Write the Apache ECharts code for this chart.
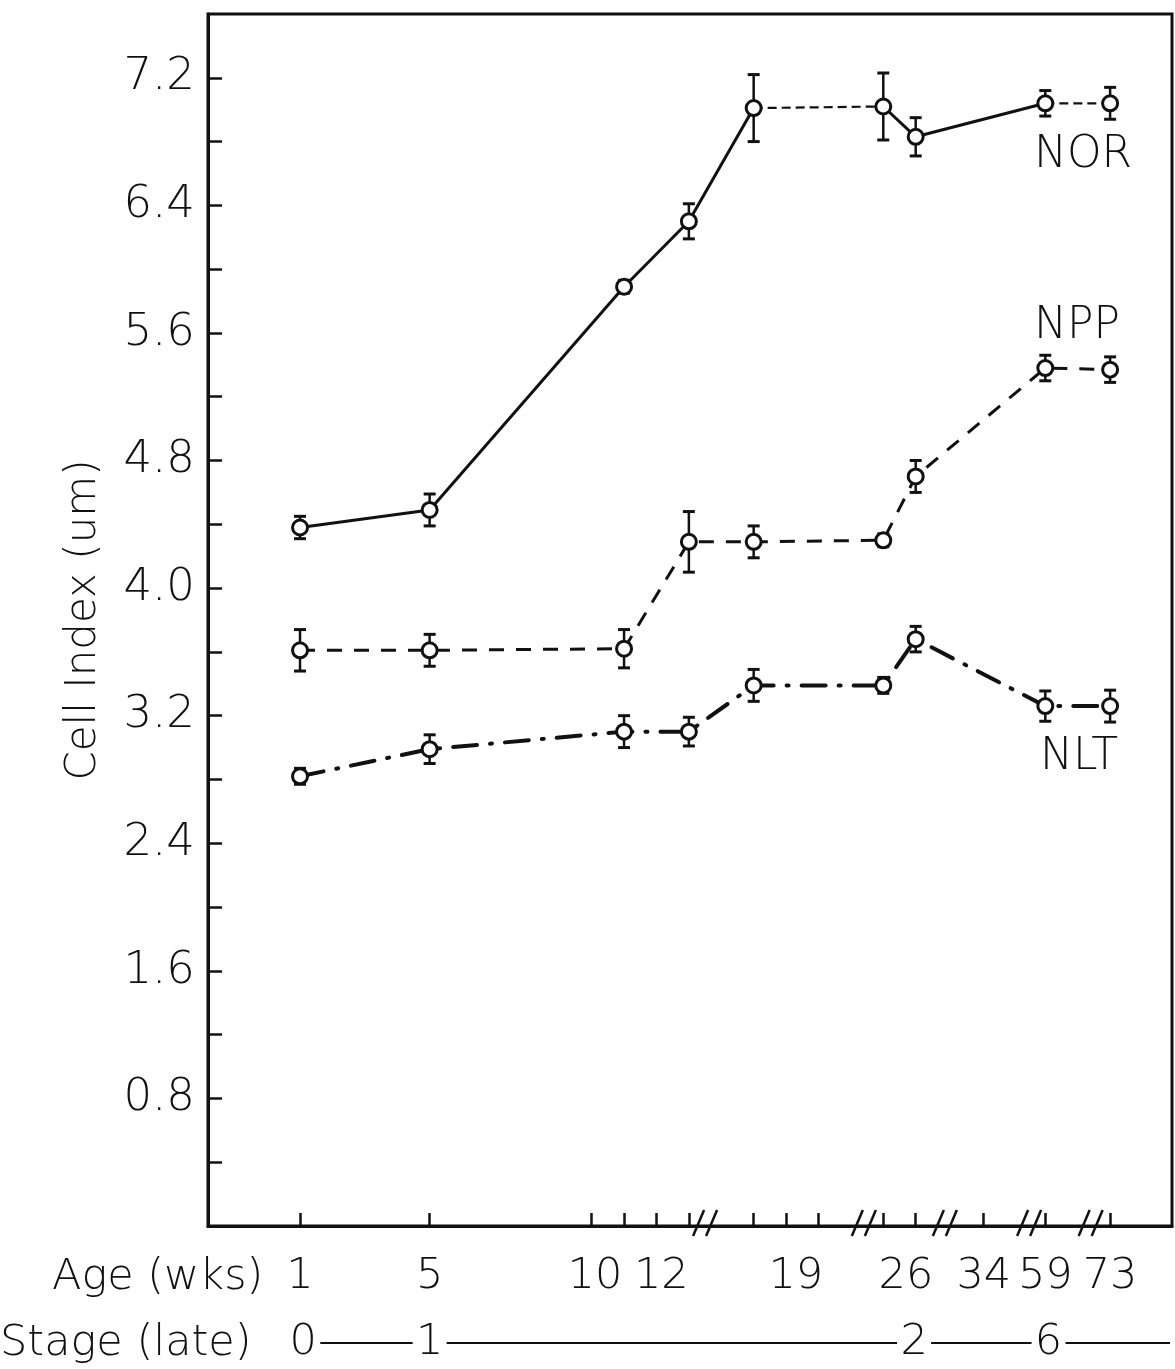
<!DOCTYPE html>
<html><head><meta charset="utf-8">
<script src="https://cdn.jsdelivr.net/npm/echarts@6/dist/echarts.min.js"></script>
<style>html,body{margin:0;padding:0;background:#fff}#c{width:1175px;height:1369px}</style>
</head><body><div id="c"></div>
<script>
// ---- data (x in axis display units of the broken age axis) ----
const agePos   = [1, 5, 11, 13, 15, 19, 20, 24, 26];
const norVals  = [4.38, 4.49, 5.89, 6.30, 7.01, 7.02, 6.83, 7.04, 7.04];
const norErr   = [0.07, 0.10, 0.04, 0.11, 0.21, 0.21, 0.12, 0.08, 0.10];
const nppVals  = [3.61, 3.61, 3.62, 4.29, 4.29, 4.30, 4.70, 5.38, 5.37];
const nppErr   = [0.13, 0.10, 0.12, 0.19, 0.10, 0.04, 0.10, 0.08, 0.08];
const nltVals  = [2.82, 2.99, 3.10, 3.10, 3.39, 3.39, 3.68, 3.26, 3.26];
const nltErr   = [0.05, 0.09, 0.10, 0.09, 0.10, 0.05, 0.08, 0.095, 0.10];
const norSolidRuns  = [[0, 4], [5, 7]];
const norDashedRuns = [[4, 5], [7, 8]];

const ageTickPos  = [1, 5, 10, 11, 12, 13, 15, 16, 17, 19, 20, 22.1, 24, 26];
const ageLabelPos = [1, 5, 10.1, 12.15, 16.3, 19.7, 22.1, 24, 26];
const ageLabels   = ['1', '5', '10', '12', '19', '26', '34', '59', '73'];
const breakPos    = [13.5, 18.4, 20.9, 23.5, 25.4];
const stagePos    = [1.1, 5, 19.95, 24.1];
const stageLabels = ['0', '1', '2', '6'];
const stageEnd    = 27.85;
const yTickVals   = [0.4, 0.8, 1.2, 1.6, 2.0, 2.4, 2.8, 3.2, 3.6, 4.0, 4.4, 4.8, 5.2, 5.6, 6.0, 6.4, 6.8, 7.2];
const yLabelVals  = [0.8, 1.6, 2.4, 3.2, 4.0, 4.8, 5.6, 6.4, 7.2];

// ---- helpers ----
const INK = '#111';
const FONT = 'DejaVu Sans';
const FW = 200;
const X_MIN = -1.84, X_MAX = 27.91;
const STAGE_OFFSET = 117;

function pts(vals, a, b) {
  const out = [];
  for (let i = a; i <= b; i++) out.push([agePos[i], vals[i]]);
  return out;
}
function lineSeries(vals, a, b, lineStyle) {
  return { type: 'line', data: pts(vals, a, b), showSymbol: false, silent: true,
           lineStyle: Object.assign({ color: INK, width: 2.5 }, lineStyle), z: 2 };
}
function errSeries(vals, err) {
  return {
    type: 'custom', z: 3, silent: true, clip: false,
    data: agePos.map((p, i) => [p, vals[i] - err[i], vals[i] + err[i]]),
    encode: { x: 0, y: [1, 2] },
    renderItem: function (params, api) {
      const x = api.value(0);
      const lo = api.coord([x, api.value(1)]);
      const hi = api.coord([x, api.value(2)]);
      const cw = 6;
      const st = { stroke: INK, lineWidth: 2.5 };
      return { type: 'group', children: [
        { type: 'line', shape: { x1: lo[0], y1: lo[1], x2: hi[0], y2: hi[1] }, style: st },
        { type: 'line', shape: { x1: lo[0] - cw, y1: lo[1], x2: lo[0] + cw, y2: lo[1] }, style: { stroke: INK, lineWidth: 3 } },
        { type: 'line', shape: { x1: hi[0] - cw, y1: hi[1], x2: hi[0] + cw, y2: hi[1] }, style: { stroke: INK, lineWidth: 3 } }
      ]};
    }
  };
}
function markerSeries(vals, name, offset) {
  const last = agePos.length - 1;
  return {
    type: 'scatter', z: 4, silent: true,
    data: agePos.map((p, i) => [p, vals[i]]),
    symbol: 'circle', symbolSize: 15,
    itemStyle: { color: '#fff', borderColor: INK, borderWidth: 3, opacity: 1 },
    label: { show: true, position: 'inside', offset: offset,
             formatter: p => (p.dataIndex === last ? name : ''),
             fontFamily: FONT, fontWeight: FW, fontSize: 44, color: INK }
  };
}

const series = [];
norSolidRuns.forEach(r => series.push(lineSeries(norVals, r[0], r[1], { type: 'solid', width: 3 })));
norDashedRuns.forEach(r => series.push(lineSeries(norVals, r[0], r[1], { type: [9, 5], width: 2.2 })));
series.push(lineSeries(nppVals, 0, agePos.length - 1, { type: [15, 12], width: 3 }));
series.push(lineSeries(nltVals, 0, agePos.length - 1, { type: [24, 13, 2, 13], width: 4, cap: 'round' }));
series.push(errSeries(norVals, norErr), errSeries(nppVals, nppErr), errSeries(nltVals, nltErr));
series.push(markerSeries(norVals, 'NOR', [-27, 52]));
series.push(markerSeries(nppVals, 'NPP', [-33, -43]));
series.push(markerSeries(nltVals, 'NLT', [-31, 51]));

// axis break marks "//"
series.push({
  type: 'custom', z: 5, silent: true, clip: false,
  data: breakPos.map(p => [p, 0]), encode: { x: 0, y: 1 },
  renderItem: function (params, api) {
    const c = api.coord([api.value(0), 0]);
    const st = { stroke: INK, lineWidth: 2.5 };
    return { type: 'group', children: [
      { type: 'line', shape: { x1: c[0] - 12, y1: c[1] + 10, x2: c[0] - 1, y2: c[1] - 16 }, style: st },
      { type: 'line', shape: { x1: c[0] + 1, y1: c[1] + 10, x2: c[0] + 12, y2: c[1] - 16 }, style: st }
    ]};
  }
});
// stage row connecting lines
series.push({
  type: 'custom', z: 5, silent: true, clip: false,
  data: stagePos.map((p, i) => [p, i < stagePos.length - 1 ? stagePos[i + 1] : stageEnd, i]),
  encode: { x: [0, 1] },
  renderItem: function (params, api) {
    const a = api.coord([api.value(0), 0]);
    const b = api.coord([api.value(1), 0]);
    const isLast = api.value(2) === stagePos.length - 1;
    const y = a[1] + STAGE_OFFSET;
    return { type: 'line', shape: { x1: a[0] + 17, y1: y, x2: isLast ? b[0] : b[0] - 17, y2: y },
             style: { stroke: INK, lineWidth: 2 } };
  }
});

const chart = echarts.init(document.getElementById('c'), null, { renderer: 'canvas' });
chart.setOption({
  backgroundColor: '#fff',
  animation: false,
  title: [
    { text: 'Age (wks)', left: 52, top: 1256, padding: 0,
      textStyle: { fontFamily: FONT, fontSize: 43, fontWeight: FW, color: INK } },
    { text: 'Stage (late)', left: 0, top: 1322, padding: 0,
      textStyle: { fontFamily: FONT, fontSize: 43, fontWeight: FW, color: INK } }
  ],
  grid: { left: 208, right: 3, top: 14, bottom: 143, show: true,
          borderColor: INK, borderWidth: 3, backgroundColor: 'transparent' },
  xAxis: [
    { type: 'value', min: X_MIN, max: X_MAX, position: 'bottom',
      axisLine: { show: true, onZero: false, lineStyle: { color: INK, width: 3 } },
      axisTick: { show: true, inside: true, length: 13, customValues: ageTickPos,
                  lineStyle: { color: INK, width: 2.5 } },
      axisLabel: { show: true, customValues: ageLabelPos, margin: 29,
                   formatter: v => { const i = ageLabelPos.findIndex(p => Math.abs(p - v) < 1e-6); return i >= 0 ? ageLabels[i] : ''; },
                   fontFamily: FONT, fontWeight: FW, fontSize: 43, color: INK },
      splitLine: { show: false } },
    { type: 'value', min: X_MIN, max: X_MAX, position: 'bottom', offset: STAGE_OFFSET,
      axisLine: { show: false, onZero: false }, axisTick: { show: false }, splitLine: { show: false },
      axisLabel: { show: true, customValues: stagePos, margin: 0, verticalAlign: 'middle',
                   formatter: v => { const i = stagePos.findIndex(p => Math.abs(p - v) < 1e-6); return i >= 0 ? stageLabels[i] : ''; },
                   fontFamily: FONT, fontWeight: FW, fontSize: 43, color: INK } }
  ],
  yAxis: {
    type: 'value', min: 0, max: 7.6,
    name: 'Cell Index (um)', nameLocation: 'middle', nameGap: 103,
    nameTextStyle: { fontFamily: FONT, fontWeight: FW, fontSize: 42, color: INK },
    axisLine: { show: true, onZero: false, lineStyle: { color: INK, width: 3 } },
    axisTick: { show: true, inside: true, length: 14, customValues: yTickVals,
                lineStyle: { color: INK, width: 2.5 } },
    axisLabel: { show: true, customValues: yLabelVals, margin: 13,
                 formatter: v => v.toFixed(1), fontFamily: FONT, fontWeight: FW, fontSize: 45, color: INK },
    splitLine: { show: false }
  },
  series: series
});
</script>
</body></html>
